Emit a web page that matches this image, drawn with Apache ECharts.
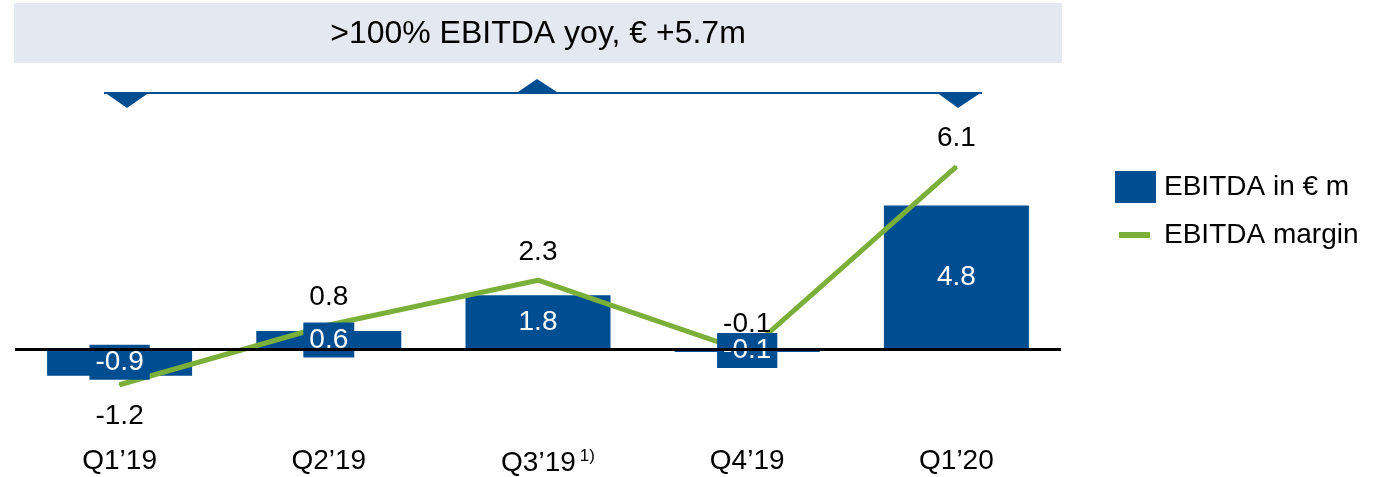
<!DOCTYPE html>
<html>
<head>
<meta charset="utf-8">
<script src="https://cdn.jsdelivr.net/npm/echarts@6/dist/echarts.min.js"></script>
<style>
  html, body { margin: 0; padding: 0; background: #fff; }
  #chart { width: 1389px; height: 477px; }
</style>
</head>
<body>
<div id="chart"></div>
<script>
// quarters on the x axis
const quarters = ["Q1’19", "Q2’19", "Q3’19", "Q4’19", "Q1’20"];
// EBITDA in € m (bars)
const ebitda = [-0.9, 0.6, 1.8, -0.1, 4.8];
// EBITDA margin (line)
const margin = [-1.2, 0.8, 2.3, -0.1, 6.1];
const bannerText = ">100% EBITDA yoy, € +5.7m";

const BLUE = "#004e92";
const GREEN = "#7ab03a";
const FONT = "Arial, 'Liberation Sans', sans-serif";

const chart = echarts.init(document.getElementById("chart"));

const option = {
  animation: false,
  textStyle: { fontFamily: FONT },
  grid: { left: 15, width: 1046, top: 110, bottom: 37 },
  legend: {
    left: 1110,
    top: 166,
    orient: "vertical",
    itemWidth: 41,
    itemHeight: 32,
    itemGap: 16,
    data: [
      { name: "EBITDA in € m", icon: "rect" },
      // thin bar inside a 41x32 box, so the icon looks like a short line
      { name: "EBITDA margin", icon: "path://M0,0L0,0M4,13L35,13L35,19L4,19ZM41,32L41,32" }
    ],
    textStyle: { fontSize: 28, color: "#000", fontFamily: FONT, padding: [0, 0, 0, 3] }
  },
  xAxis: {
    type: "category",
    data: quarters,
    axisLine: { show: false },
    axisTick: { show: false },
    axisLabel: {
      interval: 0,
      margin: 9,
      fontSize: 28,
      color: "#000",
      fontFamily: FONT,
      formatter: (v) => v === "Q3’19" ? "{pad|}" + v + "{sup|1)}" : v,
      rich: {
        pad: { width: 20 },
        sup: { fontSize: 17, color: "#000", fontFamily: FONT, padding: [0, 0, 14, 4] }
      }
    }
  },
  yAxis: {
    type: "value",
    min: -3,
    max: 8,
    show: false,
    splitLine: { show: false }
  },
  series: [
    {
      name: "EBITDA in € m",
      type: "bar",
      data: ebitda,
      barWidth: 145,
      barGap: "-100%",
      z: 2,
      itemStyle: { color: BLUE },
      markLine: {
        silent: true,
        symbol: "none",
        label: { show: false },
        lineStyle: { color: "#000", width: 3, type: "solid" },
        data: [{ yAxis: 0 }]
      }
    },
    {
      name: "EBITDA margin",
      type: "line",
      data: margin.map((v, i) => ({
        value: v,
        label: i === 0 ? { position: "bottom", distance: 17 } : { position: "top" }
      })),
      z: 3,
      symbol: "circle",
      symbolSize: 2,
      itemStyle: { color: GREEN },
      lineStyle: { color: GREEN, width: 5 },
      label: {
        show: true,
        distance: 13,
        fontSize: 28,
        color: "#000",
        fontFamily: FONT
      }
    },
    {
      // label boxes drawn above the margin line
      name: "labels",
      type: "bar",
      data: ebitda,
      barWidth: 145,
      barGap: "-100%",
      z: 4,
      silent: true,
      itemStyle: { color: "rgba(0,0,0,0)" },
      label: {
        show: true,
        position: "inside",
        fontSize: 28,
        color: "#fff",
        fontFamily: FONT,
        backgroundColor: BLUE,
        padding: [4, 6, 3, 6]
      }
    }
  ],
  graphic: [
    {
      type: "rect",
      shape: { x: 14, y: 3, width: 1048, height: 60 },
      style: { fill: "#e4e8f1" },
      silent: true
    },
    {
      type: "text",
      x: 538,
      y: 34,
      style: {
        text: bannerText,
        fontSize: 32,
        fontFamily: FONT,
        fill: "#000",
        align: "center",
        verticalAlign: "middle"
      },
      silent: true
    },
    {
      type: "line",
      shape: { x1: 104, y1: 93, x2: 982, y2: 93 },
      style: { stroke: BLUE, lineWidth: 2 },
      silent: true
    },
    {
      type: "polygon",
      shape: { points: [[104, 92], [150, 92], [127, 108]] },
      style: { fill: BLUE },
      silent: true
    },
    {
      type: "polygon",
      shape: { points: [[515, 94], [560, 94], [537, 79]] },
      style: { fill: BLUE },
      silent: true
    },
    {
      type: "polygon",
      shape: { points: [[936, 92], [982, 92], [958, 108]] },
      style: { fill: BLUE },
      silent: true
    }
  ]
};

chart.setOption(option);
</script>
</body>
</html>
